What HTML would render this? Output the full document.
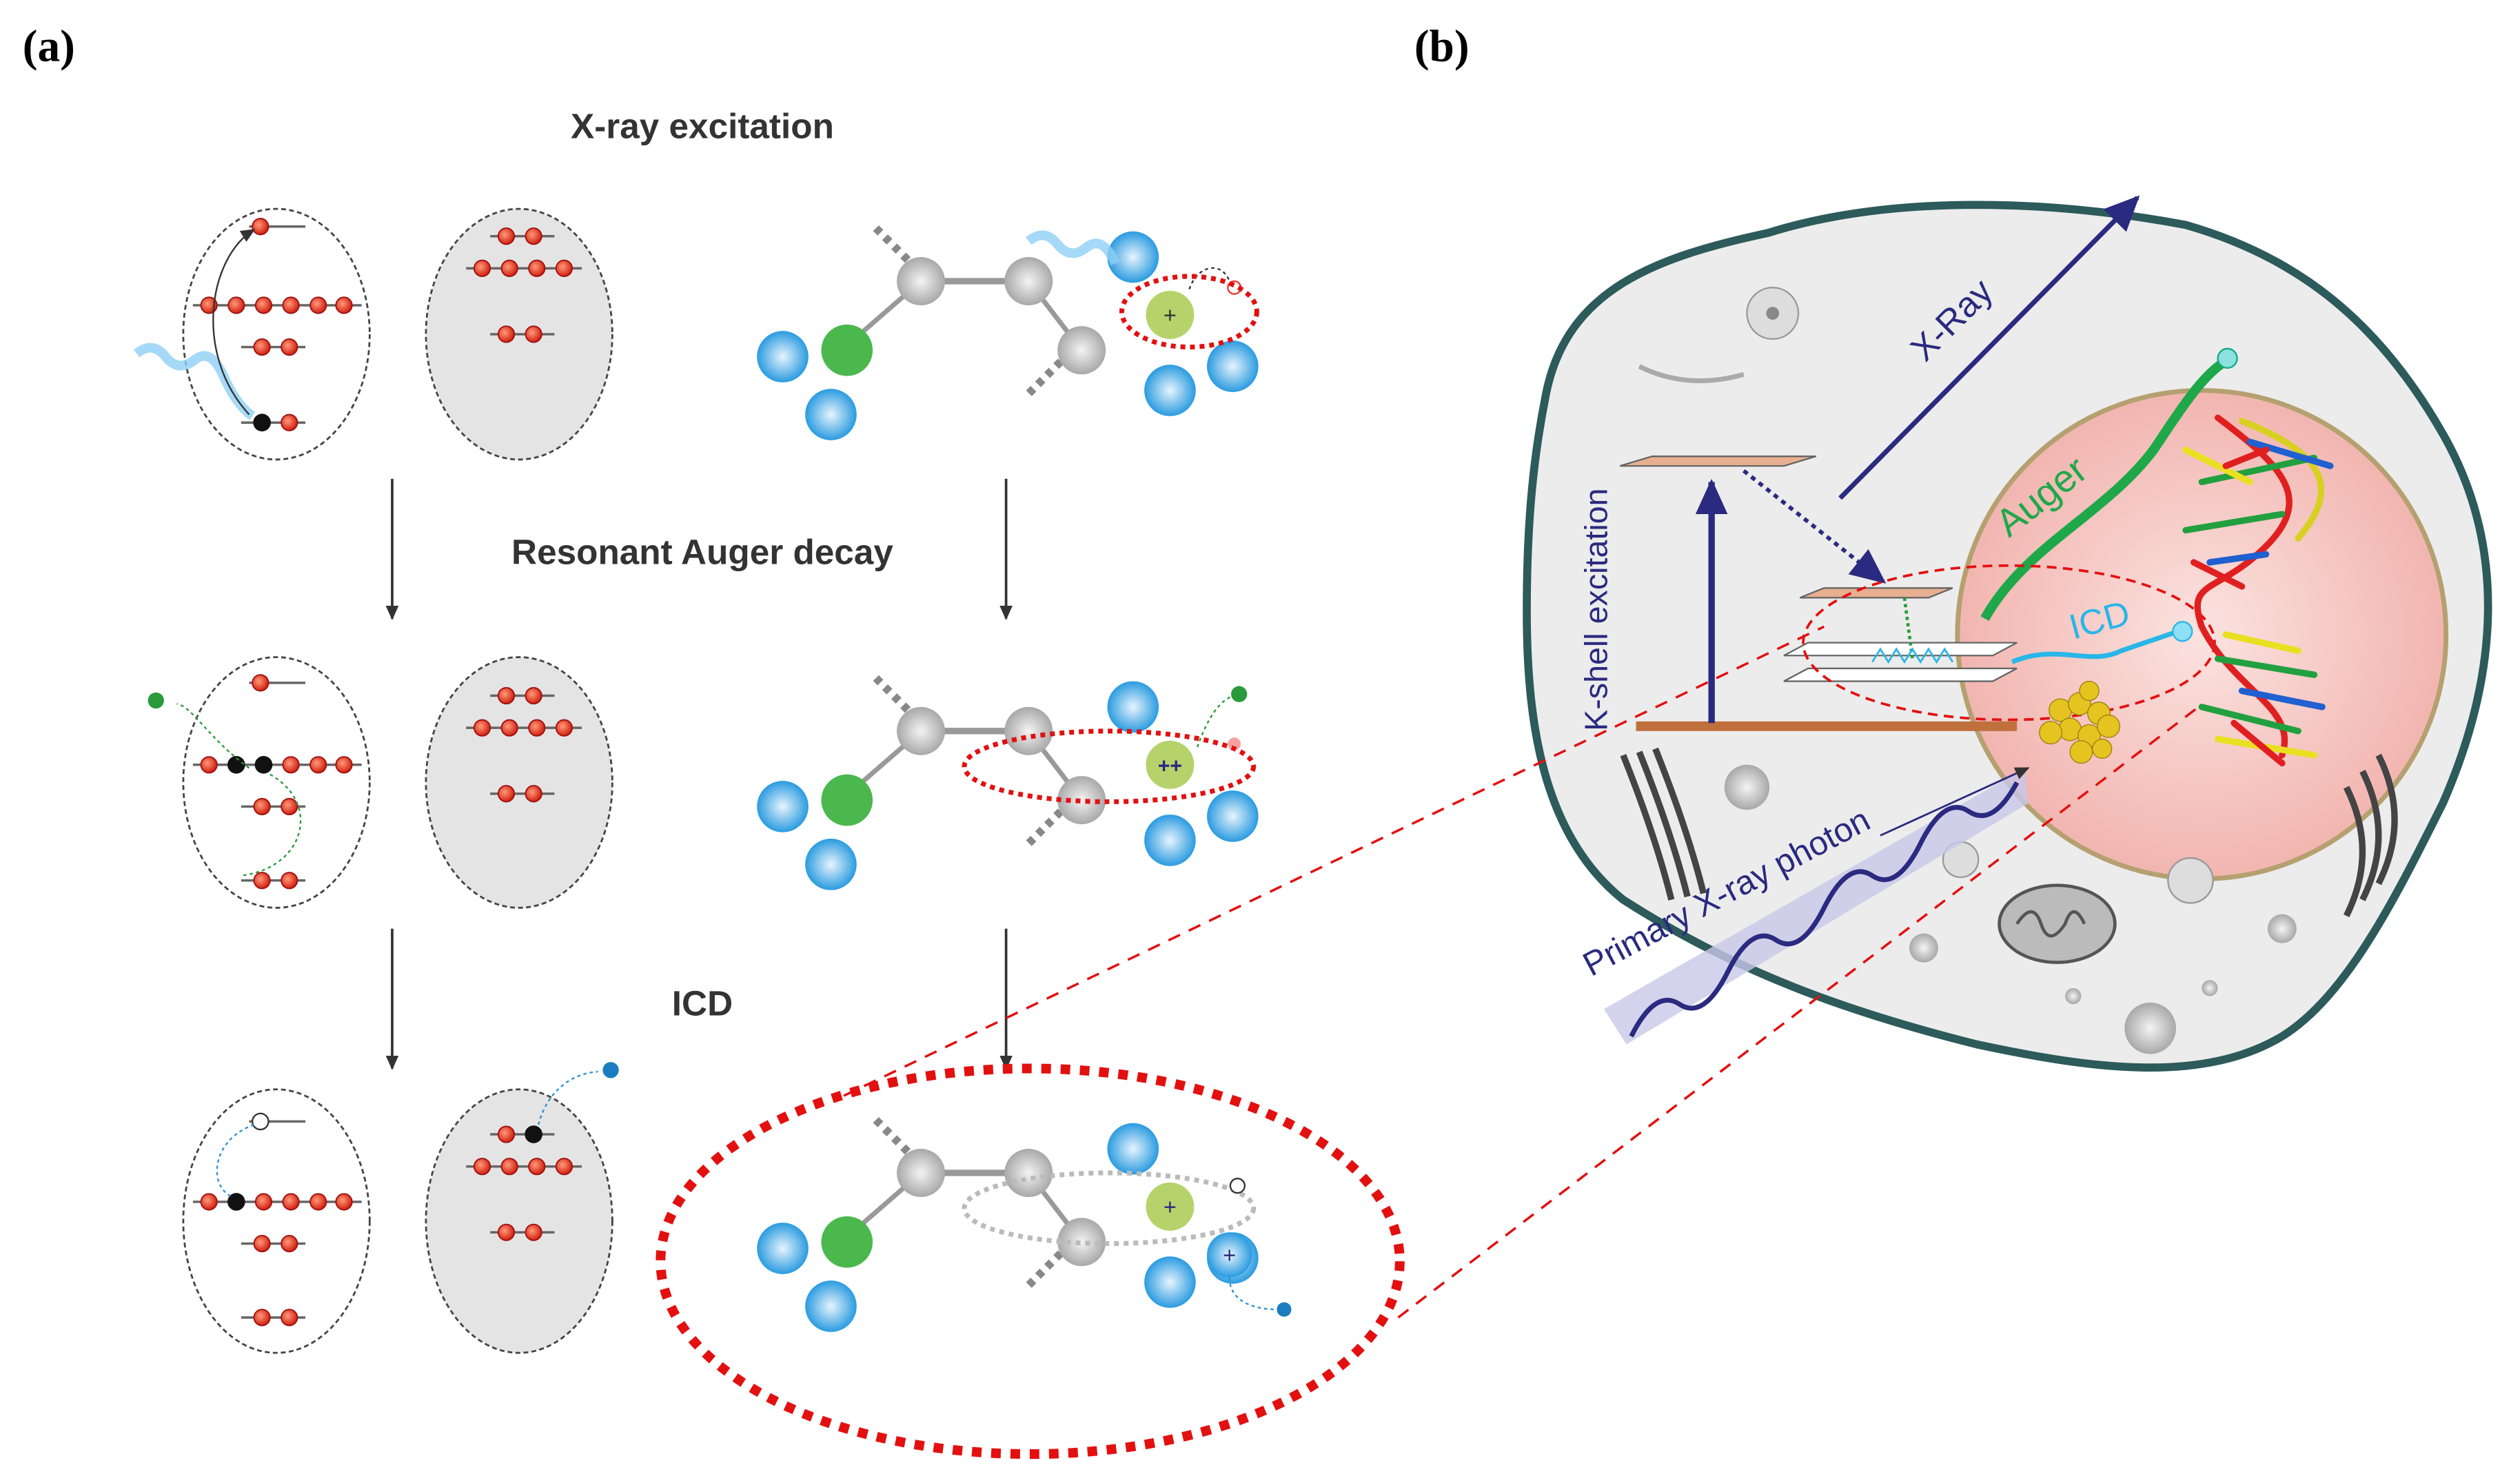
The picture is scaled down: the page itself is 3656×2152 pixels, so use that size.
<!DOCTYPE html>
<html><head><meta charset="utf-8"><style>
html,body{margin:0;padding:0;background:#fff}
svg{display:block}
text{font-family:"Liberation Sans",sans-serif}
</style></head><body>
<svg width="3656" height="2152" viewBox="0 0 1568 923" xmlns="http://www.w3.org/2000/svg">
<defs>
<radialGradient id="gb" cx="50%" cy="50%" r="50%"><stop offset="0" stop-color="#e8f4fd"/><stop offset="1" stop-color="#2a9be0"/></radialGradient>
<radialGradient id="gg" cx="50%" cy="50%" r="50%"><stop offset="0" stop-color="#f4f4f4"/><stop offset="1" stop-color="#a8a8a8"/></radialGradient>
<radialGradient id="gr" cx="40%" cy="40%" r="60%"><stop offset="0" stop-color="#ff9a7a"/><stop offset="1" stop-color="#d22010"/></radialGradient>
<radialGradient id="gn" cx="50%" cy="50%" r="50%"><stop offset="0" stop-color="#fbe3e0"/><stop offset="1" stop-color="#f2b5b0"/></radialGradient>
<marker id="ah" markerWidth="10" markerHeight="10" refX="8" refY="5" orient="auto" markerUnits="userSpaceOnUse"><path d="M0,1 L9,5 L0,9 Z" fill="#333"/></marker>
<marker id="ahb" markerWidth="24" markerHeight="24" refX="20" refY="12" orient="auto" markerUnits="userSpaceOnUse"><path d="M0,2 L22,12 L0,22 Z" fill="#2a2a80"/></marker>
<g id="eldot"><circle r="5" fill="url(#gr)" stroke="#a01010" stroke-width="0.8"/></g>
<g id="mol">
 <line x1="545" y1="142" x2="565" y2="162" stroke="#888" stroke-width="5" stroke-dasharray="4,4"/>
 <line x1="660" y1="225" x2="640" y2="245" stroke="#888" stroke-width="5" stroke-dasharray="4,4"/>
 <line x1="573" y1="175" x2="640" y2="175" stroke="#999" stroke-width="4"/>
 <line x1="573" y1="175" x2="527" y2="215" stroke="#999" stroke-width="3"/>
 <line x1="640" y1="175" x2="673" y2="218" stroke="#999" stroke-width="3"/>
 <circle cx="573" cy="175" r="15" fill="url(#gg)"/>
 <circle cx="640" cy="175" r="15" fill="url(#gg)"/>
 <circle cx="673" cy="218" r="15" fill="url(#gg)"/>
 <circle cx="527" cy="218" r="16" fill="#4bb84e"/>
 <circle cx="487" cy="222" r="16" fill="url(#gb)"/>
 <circle cx="517" cy="258" r="16" fill="url(#gb)"/>
 <circle cx="705" cy="160" r="16" fill="url(#gb)"/>
 <circle cx="728" cy="243" r="16" fill="url(#gb)"/>
 <circle cx="767" cy="228" r="16" fill="url(#gb)"/>
 <circle cx="728" cy="196" r="15" fill="#b5d36a"/>
</g>
</defs>

<text x="14" y="38" font-weight="bold" font-size="28" style="font-family:'Liberation Serif',serif">(a)</text>
<text x="880" y="38" font-weight="bold" font-size="28" style="font-family:'Liberation Serif',serif">(b)</text>

<text x="437" y="86" text-anchor="middle" font-weight="bold" font-size="22" fill="#333">X-ray excitation</text>
<text x="437" y="351" text-anchor="middle" font-weight="bold" font-size="22" fill="#333">Resonant Auger decay</text>
<text x="437" y="632" text-anchor="middle" font-weight="bold" font-size="22" fill="#333">ICD</text>

<g stroke="#333" stroke-width="1.6" marker-end="url(#ah)">
<line x1="244" y1="298" x2="244" y2="385"/><line x1="626" y1="298" x2="626" y2="385"/>
<line x1="244" y1="578" x2="244" y2="665"/><line x1="626" y1="578" x2="626" y2="665"/>
</g>

<g>
<ellipse cx="172" cy="208" rx="58" ry="78" fill="#fff" stroke="#444" stroke-width="1.2" stroke-dasharray="3,2"/>
<ellipse cx="323" cy="208" rx="58" ry="78" fill="#e4e4e4" stroke="#444" stroke-width="1.2" stroke-dasharray="3,2"/>
<ellipse cx="172" cy="487" rx="58" ry="78" fill="#fff" stroke="#444" stroke-width="1.2" stroke-dasharray="3,2"/>
<ellipse cx="323" cy="487" rx="58" ry="78" fill="#e4e4e4" stroke="#444" stroke-width="1.2" stroke-dasharray="3,2"/>
<ellipse cx="172" cy="760" rx="58" ry="82" fill="#fff" stroke="#444" stroke-width="1.2" stroke-dasharray="3,2"/>
<ellipse cx="323" cy="760" rx="58" ry="82" fill="#e4e4e4" stroke="#444" stroke-width="1.2" stroke-dasharray="3,2"/>
</g>
<g stroke="#666" stroke-width="1.5">
<line x1="155" y1="141" x2="190" y2="141"/><line x1="120" y1="190" x2="225" y2="190"/><line x1="150" y1="216" x2="190" y2="216"/><line x1="150" y1="263" x2="190" y2="263"/>
<line x1="305" y1="147" x2="345" y2="147"/><line x1="290" y1="167" x2="362" y2="167"/><line x1="305" y1="208" x2="345" y2="208"/>
<line x1="155" y1="425" x2="190" y2="425"/><line x1="120" y1="476" x2="225" y2="476"/><line x1="150" y1="502" x2="190" y2="502"/><line x1="150" y1="548" x2="190" y2="548"/>
<line x1="305" y1="433" x2="345" y2="433"/><line x1="290" y1="453" x2="362" y2="453"/><line x1="305" y1="494" x2="345" y2="494"/>
<line x1="155" y1="698" x2="190" y2="698"/><line x1="120" y1="748" x2="225" y2="748"/><line x1="150" y1="774" x2="190" y2="774"/><line x1="150" y1="820" x2="190" y2="820"/>
<line x1="305" y1="706" x2="345" y2="706"/><line x1="290" y1="726" x2="362" y2="726"/><line x1="305" y1="767" x2="345" y2="767"/>
</g>
<g>
<use href="#eldot" x="162" y="141"/>
<use href="#eldot" x="130" y="190"/><use href="#eldot" x="147" y="190"/><use href="#eldot" x="164" y="190"/><use href="#eldot" x="181" y="190"/><use href="#eldot" x="198" y="190"/><use href="#eldot" x="214" y="190"/>
<use href="#eldot" x="163" y="216"/><use href="#eldot" x="180" y="216"/>
<circle cx="163" cy="263" r="5.5" fill="#111"/><use href="#eldot" x="180" y="263"/>
<use href="#eldot" x="315" y="147"/><use href="#eldot" x="332" y="147"/>
<use href="#eldot" x="300" y="167"/><use href="#eldot" x="317" y="167"/><use href="#eldot" x="334" y="167"/><use href="#eldot" x="351" y="167"/>
<use href="#eldot" x="315" y="208"/><use href="#eldot" x="332" y="208"/>
<use href="#eldot" x="162" y="425"/>
<use href="#eldot" x="130" y="476"/><circle cx="147" cy="476" r="5.5" fill="#111"/><circle cx="164" cy="476" r="5.5" fill="#111"/><use href="#eldot" x="181" y="476"/><use href="#eldot" x="198" y="476"/><use href="#eldot" x="214" y="476"/>
<use href="#eldot" x="163" y="502"/><use href="#eldot" x="180" y="502"/>
<use href="#eldot" x="163" y="548"/><use href="#eldot" x="180" y="548"/>
<use href="#eldot" x="315" y="433"/><use href="#eldot" x="332" y="433"/>
<use href="#eldot" x="300" y="453"/><use href="#eldot" x="317" y="453"/><use href="#eldot" x="334" y="453"/><use href="#eldot" x="351" y="453"/>
<use href="#eldot" x="315" y="494"/><use href="#eldot" x="332" y="494"/>
<circle cx="162" cy="698" r="5" fill="#fff" stroke="#333"/>
<use href="#eldot" x="130" y="748"/><circle cx="147" cy="748" r="5.5" fill="#111"/><use href="#eldot" x="164" y="748"/><use href="#eldot" x="181" y="748"/><use href="#eldot" x="198" y="748"/><use href="#eldot" x="214" y="748"/>
<use href="#eldot" x="163" y="774"/><use href="#eldot" x="180" y="774"/>
<use href="#eldot" x="163" y="820"/><use href="#eldot" x="180" y="820"/>
<use href="#eldot" x="315" y="706"/><circle cx="332" cy="706" r="5.5" fill="#111"/>
<use href="#eldot" x="300" y="726"/><use href="#eldot" x="317" y="726"/><use href="#eldot" x="334" y="726"/><use href="#eldot" x="351" y="726"/>
<use href="#eldot" x="315" y="767"/><use href="#eldot" x="332" y="767"/>
</g>
<path d="M85,220 q10,-8 18,2 t18,2 t18,10 t18,25" fill="none" stroke="#8fd0f5" stroke-width="6" opacity="0.8"/>
<path d="M155,258 C120,220 130,160 158,143" fill="none" stroke="#333" stroke-width="1" marker-end="url(#ah)"/>
<path d="M155,478 C130,460 120,440 110,438" fill="none" stroke="#2a9a3a" stroke-width="1" stroke-dasharray="2,2"/>
<circle cx="97" cy="436" r="5" fill="#2a9a3a"/>
<path d="M168,482 C200,500 190,540 150,545" fill="none" stroke="#2a9a3a" stroke-width="1" stroke-dasharray="2,2"/>
<path d="M158,700 C130,710 130,740 145,745" fill="none" stroke="#2a90d0" stroke-width="1" stroke-dasharray="2,2"/>
<path d="M335,700 C340,680 355,668 372,667" fill="none" stroke="#2a90d0" stroke-width="1" stroke-dasharray="2,2"/>
<circle cx="380" cy="666" r="5" fill="#1b7dbf"/>

<use href="#mol"/>
<path d="M640,150 q10,-8 18,2 t18,2 t18,10" fill="none" stroke="#8fd0f5" stroke-width="6" opacity="0.8"/>
<text x="728" y="201" text-anchor="middle" font-size="14" fill="#333">+</text>
<path d="M740,180 C745,165 760,162 765,175" fill="none" stroke="#333" stroke-width="1" stroke-dasharray="2,2"/>
<circle cx="768" cy="179" r="4" fill="none" stroke="#e33"/>
<ellipse cx="740" cy="194" rx="42" ry="22" fill="none" stroke="#e31010" stroke-width="3" stroke-dasharray="3,3"/>

<use href="#mol" y="280"/>
<text x="728" y="481" text-anchor="middle" font-size="13" fill="#2a2a80" font-weight="bold">++</text>
<path d="M745,465 C752,445 760,435 768,433" fill="none" stroke="#2a9a3a" stroke-width="1" stroke-dasharray="2,2"/>
<circle cx="771" cy="432" r="5" fill="#2a9a3a"/>
<circle cx="768" cy="463" r="4" fill="#f8a0a0"/>
<ellipse cx="690" cy="477" rx="90" ry="22" fill="none" stroke="#e31010" stroke-width="3" stroke-dasharray="3,3"/>

<use href="#mol" y="555"/>
<ellipse cx="690" cy="752" rx="90" ry="22" fill="none" stroke="#bbb" stroke-width="3" stroke-dasharray="3,3"/>
<text x="728" y="756" text-anchor="middle" font-size="14" fill="#2a2a80">+</text>
<circle cx="765" cy="781" r="14" fill="url(#gb)"/>
<text x="765" y="786" text-anchor="middle" font-size="14" fill="#2a2a80">+</text>
<circle cx="770" cy="738" r="4.5" fill="#fff" stroke="#333"/>
<path d="M765,795 C765,810 780,815 795,815" fill="none" stroke="#2a90d0" stroke-width="1" stroke-dasharray="2,2"/>
<circle cx="799" cy="815" r="4.5" fill="#1b7dbf"/>
<ellipse cx="641" cy="785" rx="230" ry="120" fill="none" stroke="#e31010" stroke-width="6" stroke-dasharray="6,6"/>

<!-- panel b: cell -->
<path d="M962,245 C975,180 1030,160 1100,145 C1180,120 1280,125 1360,140 C1430,160 1480,200 1520,270 C1560,340 1555,420 1520,500 C1490,560 1460,620 1420,645 C1370,675 1300,665 1230,650 C1150,630 1080,605 1010,560 C960,520 950,450 950,380 C950,320 955,280 962,245 Z" fill="#ececec" stroke="#2d5a5a" stroke-width="5"/>
<circle cx="1370" cy="395" r="152" fill="url(#gn)" stroke="#b5a070" stroke-width="3"/>

<circle cx="1103" cy="195" r="16" fill="#ddd" stroke="#999"/>
<circle cx="1103" cy="195" r="4" fill="#888"/>
<path d="M1020,228 q30,15 65,5" fill="none" stroke="#aaa" stroke-width="3"/>
<circle cx="1087" cy="490" r="14" fill="url(#gg)"/>
<path d="M1010,470 q20,50 30,90 M1020,468 q20,50 30,90 M1030,466 q20,50 30,90" fill="none" stroke="#444" stroke-width="4"/>
<ellipse cx="1280" cy="575" rx="36" ry="24" fill="#bbb" stroke="#555" stroke-width="2"/>
<path d="M1255,575 q10,-15 15,0 q5,15 15,0 q5,-15 12,0" fill="none" stroke="#555" stroke-width="2"/>
<circle cx="1220" cy="535" r="11" fill="#ddd" stroke="#999"/>
<circle cx="1363" cy="548" r="14" fill="#ddd" stroke="#999"/>
<circle cx="1420" cy="578" r="9" fill="url(#gg)"/>
<circle cx="1197" cy="590" r="9" fill="url(#gg)"/>
<circle cx="1338" cy="640" r="16" fill="url(#gg)"/>
<circle cx="1290" cy="620" r="5" fill="url(#gg)"/>
<circle cx="1375" cy="615" r="5" fill="url(#gg)"/>
<path d="M1480,470 q20,40 0,80 M1470,480 q20,40 0,80 M1460,490 q20,40 0,80" fill="none" stroke="#444" stroke-width="4"/>

<line x1="1145" y1="310" x2="1330" y2="123" stroke="#2a2a80" stroke-width="3" marker-end="url(#ahb)"/>
<text x="0" y="0" transform="translate(1198,226) rotate(-45)" font-size="22" fill="#2a2a80">X-Ray</text>

<text x="0" y="0" transform="translate(1000,455) rotate(-90)" font-size="20" fill="#2a2a80">K-shell excitation</text>
<line x1="1018" y1="452" x2="1255" y2="452" stroke="#c0703c" stroke-width="6"/>
<polygon points="1008,290 1110,290 1130,284 1028,284" fill="#e8b090" stroke="#666"/>
<polygon points="1120,372 1200,372 1215,366 1135,366" fill="#e8b090" stroke="#666"/>
<polygon points="1110,408 1240,408 1255,400 1125,400" fill="#fff" stroke="#666"/>
<polygon points="1110,424 1240,424 1255,416 1125,416" fill="#fff" stroke="#666"/>
<line x1="1065" y1="450" x2="1065" y2="300" stroke="#2a2a80" stroke-width="4" marker-end="url(#ahb)"/>
<line x1="1085" y1="293" x2="1172" y2="362" stroke="#2a2a80" stroke-width="2.5" stroke-dasharray="3,3" marker-end="url(#ahb)"/>
<line x1="1185" y1="372" x2="1190" y2="410" stroke="#2a9a3a" stroke-width="2" stroke-dasharray="2,2"/>
<path d="M1165,412 l5,-8 l5,8 l5,-8 l5,8 l5,-8 l5,8 l5,-8 l5,8 l5,-8 l5,8" fill="none" stroke="#29b6e8" stroke-width="1.2"/>

<path d="M1235,385 C1260,340 1310,320 1340,280 C1360,250 1370,235 1383,226" fill="none" stroke="#1fa84a" stroke-width="6"/>
<circle cx="1386" cy="223" r="6" fill="#8de0e0" stroke="#1a8"/>
<text x="0" y="0" transform="translate(1250,335) rotate(-38)" font-size="24" fill="#1fa84a">Auger</text>
<path d="M1252,412 C1280,400 1300,415 1320,405 C1340,398 1350,395 1355,393" fill="none" stroke="#29b6e8" stroke-width="3"/>
<circle cx="1358" cy="393" r="6" fill="#8de0f5" stroke="#29b6e8"/>
<text x="0" y="0" transform="translate(1290,398) rotate(-15)" font-size="22" fill="#29b6e8">ICD</text>
<ellipse cx="1250" cy="400" rx="128" ry="48" fill="none" stroke="#e31010" stroke-width="1.6" stroke-dasharray="6,4"/>

<g fill="#e6c420" stroke="#a08010" stroke-width="0.6">
<circle cx="1282" cy="442" r="7"/><circle cx="1294" cy="438" r="7"/><circle cx="1306" cy="444" r="7"/><circle cx="1288" cy="454" r="7"/><circle cx="1300" cy="458" r="7"/><circle cx="1312" cy="452" r="7"/><circle cx="1276" cy="456" r="7"/><circle cx="1295" cy="468" r="7"/><circle cx="1308" cy="466" r="6"/><circle cx="1300" cy="430" r="6"/>
</g>

<g stroke-width="4" fill="none" stroke-linecap="round">
<path d="M1380,260 C1420,290 1440,310 1410,340 C1380,370 1360,360 1370,390 C1390,430 1430,440 1420,470" stroke="#e02020"/>
<path d="M1395,262 C1440,280 1460,300 1430,335" stroke="#d8d020"/>
<path d="M1370,300 L1440,285 M1360,330 L1420,320 M1380,410 L1440,420 M1370,440 L1430,455" stroke="#22a040"/>
<path d="M1400,275 L1450,290 M1375,350 L1410,345 M1395,430 L1445,440" stroke="#2060d0"/>
<path d="M1360,280 L1400,300 M1385,395 L1430,405 M1380,460 L1440,470" stroke="#e8e020"/>
<path d="M1365,350 L1395,365 M1390,450 L1420,475 M1385,290 L1410,280" stroke="#e02020"/>
</g>

<polygon points="998,628 1260,478 1262,500 1012,650" fill="#c8c8e8" opacity="0.8"/>
<path d="M1015,645 q15,-30 30,-20 t30,-20 t30,-20 t30,-20 t30,-20 t30,-20 t30,-20 t30,-18" fill="none" stroke="#2a2a80" stroke-width="3"/>
<line x1="1170" y1="520" x2="1262" y2="478" stroke="#2a2a80" stroke-width="1.2" marker-end="url(#ah)"/>
<text x="0" y="0" transform="translate(990,608) rotate(-28)" font-size="21" fill="#2a2a80">Primary X-ray photon</text>

<!-- dashed connection lines (on top) -->
<line x1="525" y1="682" x2="1135" y2="390" stroke="#e31010" stroke-width="1.5" stroke-dasharray="8,6"/>
<line x1="870" y1="820" x2="1368" y2="440" stroke="#e31010" stroke-width="1.5" stroke-dasharray="8,6"/>
</svg>
</body></html>
